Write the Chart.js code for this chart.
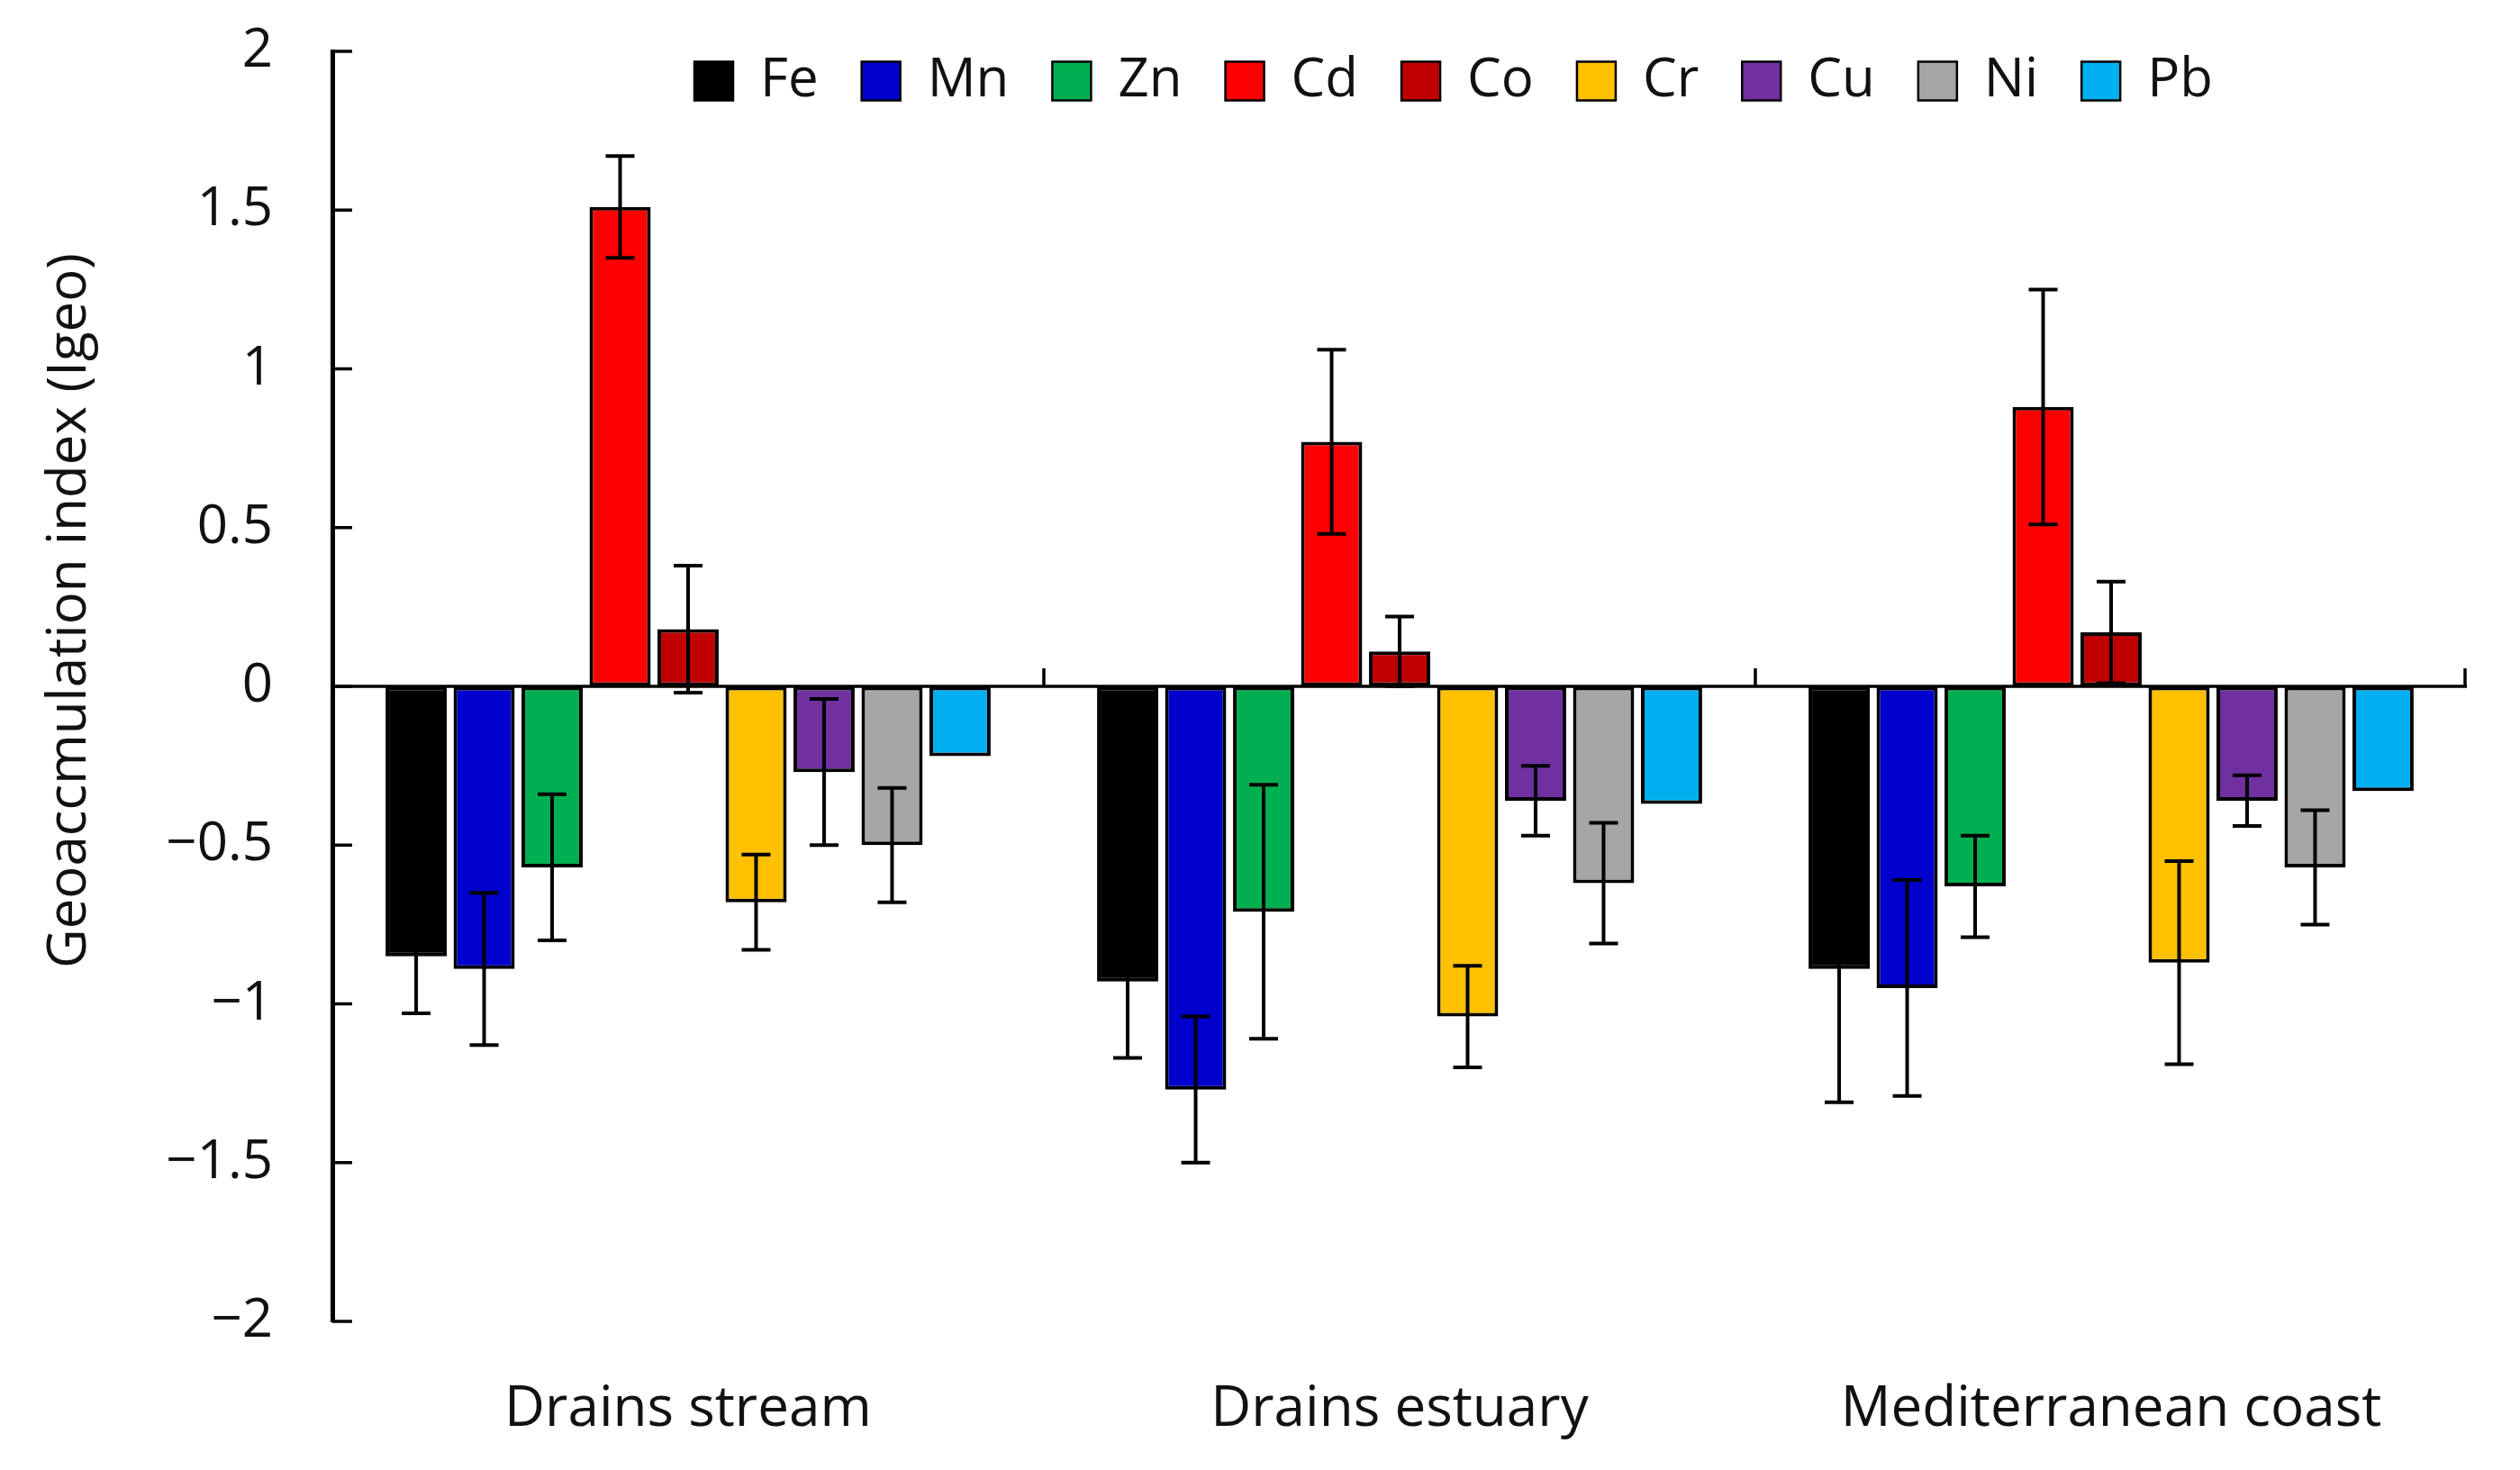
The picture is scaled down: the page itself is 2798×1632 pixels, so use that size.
<!DOCTYPE html>
<html>
<head>
<meta charset="utf-8">
<script src="https://cdn.jsdelivr.net/npm/chart.js@4.4.1/dist/chart.umd.min.js"></script>
<style>
  html, body { margin: 0; padding: 0; background: #fff; }
  canvas { display: block; }
</style>
</head>
<body>
<canvas id="igeoChart" width="2798" height="1632"></canvas>
<script>
const sites = ['Drains stream', 'Drains estuary', 'Mediterranean coast'];
const metals = ['Fe', 'Mn', 'Zn', 'Cd', 'Co', 'Cr', 'Cu', 'Ni', 'Pb'];
const colors = ['#000000', '#0000CC', '#00B050', '#FF0000', '#C00000', '#FFC000', '#7030A0', '#A6A6A6', '#00B0F0'];

// Igeo means per site
const Fe = [-0.85, -0.93, -0.89];
const Mn = [-0.89, -1.27, -0.95];
const Zn = [-0.57, -0.71, -0.63];
const Cd = [1.51, 0.77, 0.88];
const Co = [0.18, 0.11, 0.17];
const Cr = [-0.68, -1.04, -0.87];
const Cu = [-0.27, -0.36, -0.36];
const Ni = [-0.50, -0.62, -0.57];
const Pb = [-0.22, -0.37, -0.33];

// error bars (+/-)
const FeErr = [0.18, 0.24, 0.42];
const MnErr = [0.24, 0.23, 0.34];
const ZnErr = [0.23, 0.40, 0.16];
const CdErr = [0.16, 0.29, 0.37];
const CoErr = [0.20, 0.11, 0.16];
const CrErr = [0.15, 0.16, 0.32];
const CuErr = [0.23, 0.11, 0.08];
const NiErr = [0.18, 0.19, 0.18];
const PbErr = [0, 0, 0];

const yMin = -2, yMax = 2, yStep = 0.5;

const seriesVals = [Fe, Mn, Zn, Cd, Co, Cr, Cu, Ni, Pb];
const seriesErr = [FeErr, MnErr, ZnErr, CdErr, CoErr, CrErr, CuErr, NiErr, PbErr];

const FONT = '"Open Sans", "Noto Sans", sans-serif';
const TXT = '#111111';

const datasets = metals.map((m, i) => ({
  label: m,
  data: seriesVals[i],
  errors: seriesErr[i],
  backgroundColor: colors[i],
  borderColor: '#000000',
  borderWidth: 4,
  borderSkipped: false
}));

// zero line, inner ticks on y axis, boundary ticks on x axis
const axisDecor = {
  id: 'axisDecor',
  afterDatasetsDraw(chart) {
    const {ctx, chartArea, scales: {x, y}} = chart;
    const y0 = y.getPixelForValue(0);
    ctx.save();
    ctx.strokeStyle = '#000';
    ctx.lineWidth = 3.5;
    ctx.beginPath();
    ctx.moveTo(chartArea.left, y0);
    ctx.lineTo(chartArea.right, y0);
    ctx.stroke();
    // boundary ticks pointing up
    for (let i = 0; i < sites.length; i++) {
      const bx = i < sites.length - 1
        ? (x.getPixelForValue(i) + x.getPixelForValue(i + 1)) / 2
        : chartArea.right - 2;
      ctx.beginPath();
      ctx.moveTo(bx, y0);
      ctx.lineTo(bx, y0 - 20);
      ctx.stroke();
    }
    // y ticks pointing right
    y.ticks.forEach(t => {
      const py = y.getPixelForValue(t.value);
      ctx.beginPath();
      ctx.moveTo(chartArea.left, py);
      ctx.lineTo(chartArea.left + 22, py);
      ctx.stroke();
    });
    ctx.restore();
  }
};

const errorBars = {
  id: 'errorBars',
  afterDatasetsDraw(chart) {
    const {ctx, scales: {y}} = chart;
    ctx.save();
    ctx.strokeStyle = '#000';
    ctx.lineWidth = 4;
    chart.data.datasets.forEach((ds, i) => {
      const meta = chart.getDatasetMeta(i);
      meta.data.forEach((bar, j) => {
        const e = ds.errors[j];
        if (!e) return;
        const v = ds.data[j];
        const top = y.getPixelForValue(v + e);
        const bot = y.getPixelForValue(v - e);
        const cap = 16;
        ctx.beginPath();
        ctx.moveTo(bar.x, top);
        ctx.lineTo(bar.x, bot);
        ctx.moveTo(bar.x - cap, top);
        ctx.lineTo(bar.x + cap, top);
        ctx.moveTo(bar.x - cap, bot);
        ctx.lineTo(bar.x + cap, bot);
        ctx.stroke();
      });
    });
    ctx.restore();
  }
};

const yTitle = {
  id: 'yTitle',
  afterDraw(chart) {
    const {ctx} = chart;
    ctx.save();
    ctx.translate(78, 678);
    ctx.rotate(-Math.PI / 2);
    ctx.fillStyle = TXT;
    ctx.font = '60px ' + FONT;
    ctx.textAlign = 'center';
    ctx.textBaseline = 'middle';
    ctx.fillText('Geoaccmulation index (Igeo)', 0, 0);
    ctx.restore();
  }
};

// put the legend inside the plot, near the top
const legendPlace = {
  id: 'legendPlace',
  afterLayout(chart) {
    const lg = chart.legend;
    if (!lg || !lg.lineWidths) return;
    const p = lg.options.labels.padding;
    const itemH = lg.options.labels.font.size;
    const w = lg.right - lg.left;
    lg.top = 90 - p - itemH / 2;
    lg.bottom = lg.top + 2 * p + itemH;
    const L = 771 - (w + p - lg.lineWidths[0]) / 2;
    lg.left = L;
    lg.right = L + w;
  }
};

const chart = new Chart(document.getElementById('igeoChart'), {
  type: 'bar',
  data: { labels: sites, datasets: datasets },
  options: {
    responsive: false,
    animation: false,
    devicePixelRatio: 1,
    layout: { padding: { top: 57, right: 59, bottom: 0, left: 0 } },
    datasets: {
      bar: { categoryPercentage: 0.86, barPercentage: 0.90 }
    },
    plugins: {
      tooltip: { enabled: false },
      legend: {
        position: 'top',
        labels: {
          color: TXT,
          font: { family: FONT, size: 60 },
          boxWidth: 43,
          boxHeight: 43,
          padding: 48,
          generateLabels(c) {
            return Chart.defaults.plugins.legend.labels.generateLabels(c)
              .map(l => Object.assign(l, { lineWidth: 2.5 }));
          }
        }
      }
    },
    scales: {
      x: {
        grid: { display: false },
        border: { display: false },
        ticks: {
          color: TXT,
          font: { family: FONT, size: 62 },
          padding: 53
        },
        afterFit(s) { s.height = 165; }
      },
      y: {
        min: yMin,
        max: yMax,
        // invisible outer ticks keep the labels away from the axis line
        grid: { drawOnChartArea: false, drawTicks: true, tickLength: 60, tickColor: 'rgba(0,0,0,0)' },
        border: { display: true, color: '#000', width: 5 },
        ticks: {
          stepSize: yStep,
          color: TXT,
          font: { family: FONT, size: 60 },
          padding: 6,
          callback: v => (v < 0 ? '\u2212' + Math.abs(v) : String(v))
        },
        afterFit(s) { s.width = 369; }
      }
    }
  },
  plugins: [axisDecor, errorBars, yTitle, legendPlace]
});

// the legend overlays the plot, so it should take no room in the layout
const lgBox = chart.legend;
const fitOrig = lgBox.fit;
lgBox.fit = function () {
  fitOrig.call(this);
  this.height = 0;
};
chart.update();
</script>
</body>
</html>
